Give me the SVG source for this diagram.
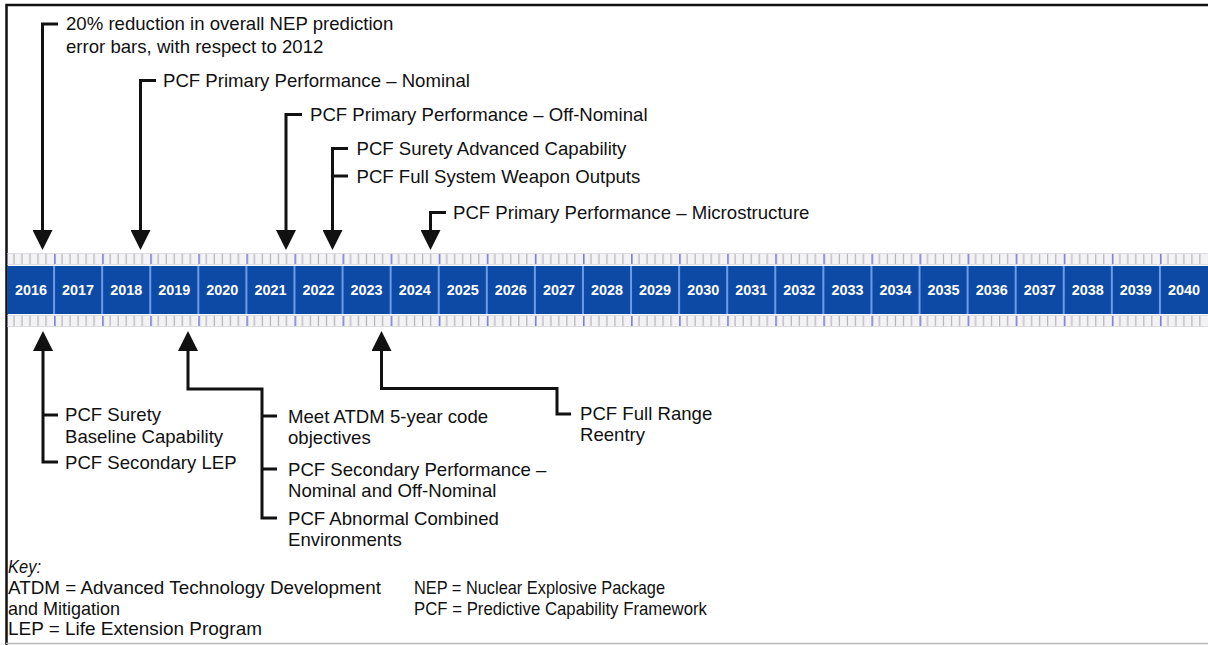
<svg xmlns="http://www.w3.org/2000/svg" width="1208" height="645" viewBox="0 0 1208 645">
<style>
.t{font-family:"Liberation Sans",Arial,sans-serif;font-size:18.6px;fill:#111}
.k{font-family:"Liberation Sans",Arial,sans-serif;font-size:18.4px;fill:#111}
.y{font-family:"Liberation Sans",Arial,sans-serif;font-size:14.4px;font-weight:bold;fill:#fff;text-anchor:middle}
.c{fill:none;stroke:#111;stroke-width:3}
.sep{stroke:#6e9be6;stroke-width:2}
</style>
<defs>
<marker id="ah" viewBox="0 0 20 20" markerWidth="20" markerHeight="20" refX="2" refY="10" orient="auto" markerUnits="userSpaceOnUse">
<path d="M0,0 L20,10 L0,20 z" fill="#111"/>
</marker>
<pattern id="ticks" patternUnits="userSpaceOnUse" x="6" y="0" width="48.08" height="645">
<rect x="0" y="0" width="48.08" height="645" fill="#f3f3f5"/>
<path d="M8,0V645M16,0V645M24,0V645M32,0V645M40,0V645" stroke="#b4b4b8" stroke-width="1.2"/>
<path d="M0.8,0V645" stroke="#7b7bd0" stroke-width="1.6"/>
</pattern>
</defs>
<rect width="1208" height="645" fill="#fff"/>
<g id="frame">
<path d="M6.5,645V5H1208" fill="none" stroke="#111" stroke-width="2.5"/>
<path d="M6,643.5H1208" stroke="#b8b8b8" stroke-width="1.5"/>
</g>
<g id="timeline">
<rect x="7.5" y="253" width="1200.5" height="12" fill="url(#ticks)"/>
<rect x="7.5" y="315" width="1200.5" height="12" fill="url(#ticks)"/>
<path d="M7.5,253.5H1208M7.5,264.5H1208M7.5,315.5H1208M7.5,326.5H1208" stroke="#dcdce2" stroke-width="1"/>
<rect x="7.5" y="266" width="1200.5" height="48" fill="#0d4aa6"/>
<path class="sep" d="M54.08,266V314M102.16,266V314M150.24,266V314M198.32,266V314M246.4,266V314M294.48,266V314M342.56,266V314M390.64,266V314M438.72,266V314M486.8,266V314M534.88,266V314M582.96,266V314M631.04,266V314M679.12,266V314M727.2,266V314M775.28,266V314M823.36,266V314M871.44,266V314M919.52,266V314M967.6,266V314M1015.68,266V314M1063.76,266V314M1111.84,266V314M1159.92,266V314"/>
<text class="y" x="31" y="295">2016</text>
<text class="y" x="78.12" y="295">2017</text>
<text class="y" x="126.2" y="295">2018</text>
<text class="y" x="174.28" y="295">2019</text>
<text class="y" x="222.36" y="295">2020</text>
<text class="y" x="270.44" y="295">2021</text>
<text class="y" x="318.52" y="295">2022</text>
<text class="y" x="366.6" y="295">2023</text>
<text class="y" x="414.68" y="295">2024</text>
<text class="y" x="462.76" y="295">2025</text>
<text class="y" x="510.84" y="295">2026</text>
<text class="y" x="558.92" y="295">2027</text>
<text class="y" x="607" y="295">2028</text>
<text class="y" x="655.08" y="295">2029</text>
<text class="y" x="703.16" y="295">2030</text>
<text class="y" x="751.24" y="295">2031</text>
<text class="y" x="799.32" y="295">2032</text>
<text class="y" x="847.4" y="295">2033</text>
<text class="y" x="895.48" y="295">2034</text>
<text class="y" x="943.56" y="295">2035</text>
<text class="y" x="991.64" y="295">2036</text>
<text class="y" x="1039.72" y="295">2037</text>
<text class="y" x="1087.8" y="295">2038</text>
<text class="y" x="1135.88" y="295">2039</text>
<text class="y" x="1183.96" y="295">2040</text>
</g>
<g id="connectors">
<path class="c" d="M58,24H42.5V232" marker-end="url(#ah)"/>
<path class="c" d="M156,80.5H140.5V232" marker-end="url(#ah)"/>
<path class="c" d="M302,114.5H286V232" marker-end="url(#ah)"/>
<path class="c" d="M348,148.5H332.5V232" marker-end="url(#ah)"/>
<path class="c" d="M332.5,176H348"/>
<path class="c" d="M446,212.5H430.5V232" marker-end="url(#ah)"/>
<path class="c" d="M58,462H43V349" marker-end="url(#ah)"/>
<path class="c" d="M43,415H58"/>
<path class="c" d="M277,518H262V389H188V349" marker-end="url(#ah)"/>
<path class="c" d="M262,416H277M262,469H277"/>
<path class="c" d="M571,414H557V388.5H381.5V349" marker-end="url(#ah)"/>
</g>
<g id="m2016top">
<text class="t" x="66" y="29.5">20% reduction in overall NEP prediction</text>
<text class="t" x="66" y="52.5">error bars, with respect to 2012</text>
</g>
<g id="m2018"><text class="t" x="163" y="86.5">PCF Primary Performance – Nominal</text></g>
<g id="m2021"><text class="t" x="310" y="121">PCF Primary Performance – Off-Nominal</text></g>
<g id="m2022">
<text class="t" x="356.5" y="155">PCF Surety Advanced Capability</text>
<text class="t" x="356.5" y="182.5">PCF Full System Weapon Outputs</text>
</g>
<g id="m2024"><text class="t" x="453" y="218.5">PCF Primary Performance – Microstructure</text></g>
<g id="m2016bottom">
<text class="t" x="65" y="421">PCF Surety</text>
<text class="t" x="65" y="442.5">Baseline Capability</text>
<text class="t" x="65" y="468.5">PCF Secondary LEP</text>
</g>
<g id="m2019">
<text class="t" x="288" y="422.5">Meet ATDM 5-year code</text>
<text class="t" x="288" y="443.5">objectives</text>
<text class="t" x="288" y="475.5">PCF Secondary Performance –</text>
<text class="t" x="288" y="496.5">Nominal and Off-Nominal</text>
<text class="t" x="288" y="524.5">PCF Abnormal Combined</text>
<text class="t" x="288" y="545.5">Environments</text>
</g>
<g id="m2023">
<text class="t" x="580" y="420">PCF Full Range</text>
<text class="t" x="580" y="441">Reentry</text>
</g>
<g id="key">
<text class="k" x="8" y="573" font-style="italic" textLength="33" lengthAdjust="spacingAndGlyphs">Key:</text>
<text class="k" x="8" y="594" textLength="373" lengthAdjust="spacingAndGlyphs">ATDM = Advanced Technology Development</text>
<text class="k" x="8" y="614.5" textLength="112" lengthAdjust="spacingAndGlyphs">and Mitigation</text>
<text class="k" x="8" y="635" textLength="254" lengthAdjust="spacingAndGlyphs">LEP = Life Extension Program</text>
<text class="k" x="414" y="594" textLength="251" lengthAdjust="spacingAndGlyphs">NEP = Nuclear Explosive Package</text>
<text class="k" x="414" y="614.5" textLength="293" lengthAdjust="spacingAndGlyphs">PCF = Predictive Capability Framework</text>
</g>
</svg>
